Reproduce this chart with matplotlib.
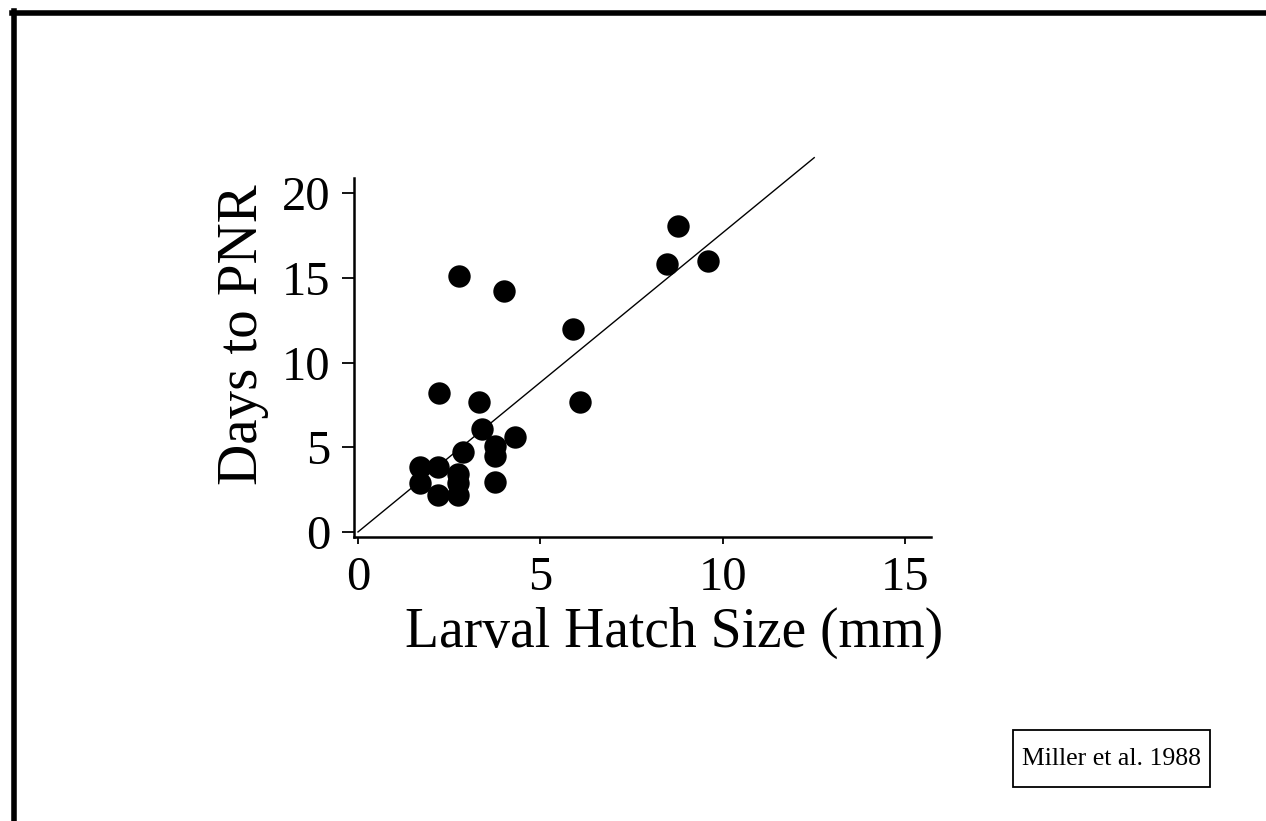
import numpy as np
import matplotlib
matplotlib.use('Agg')
import matplotlib.pyplot as plt
from matplotlib.lines import Line2D
from matplotlib.patches import Rectangle

# hatch size (mm) vs days to point-of-no-return
hatch_size = [2.77, 4.0, 5.89, 2.22, 3.32, 6.08, 3.4, 4.3, 3.75, 3.75, 2.88,
              3.75, 1.7, 1.7, 2.2, 2.2, 2.74, 2.74, 2.74, 8.77, 8.47, 9.59]
days_pnr = [15.1, 14.2, 12.0, 8.2, 7.7, 7.7, 6.1, 5.6, 5.1, 4.5, 4.7,
            2.95, 3.85, 2.9, 3.85, 2.2, 3.4, 2.9, 2.2, 18.05, 15.8, 16.0]
fit_x = [0, 12.5]
fit_y = [0, 22.1]

plt.rcParams['font.family'] = ['Liberation Serif', 'DejaVu Serif']

W, H = 1266, 821
fig = plt.figure(figsize=(12.66, 8.21), dpi=100)
ax = fig.add_axes([0.2796, 0.3459, 0.4558, 0.4373])

ax.scatter(hatch_size, days_pnr, s=260, color='black', zorder=3, linewidths=0)
ax.plot(fit_x, fit_y, color='black', lw=1.0, clip_on=False)

ax.set_xlim(-0.11, 15.7)
ax.set_ylim(-0.3, 20.9)
ax.set_xticks([0, 5, 10, 15])
ax.set_yticks([0, 5, 10, 15, 20])
for s in ['top', 'right']:
    ax.spines[s].set_visible(False)
ax.spines['left'].set_linewidth(1.8)
ax.spines['bottom'].set_linewidth(1.8)
ax.tick_params(axis='y', length=9, width=1.3, labelsize=35, pad=8)
ax.tick_params(axis='x', length=5, width=1.3, labelsize=35, pad=9)

ax.set_xlabel('Larval Hatch Size (mm)', fontsize=40)
ax.set_ylabel('Days to PNR', fontsize=41)
ax.xaxis.set_label_coords(0.555, -0.195)
ax.yaxis.set_label_coords(-0.148, 0.563)

# citation box
fig.text(1111.5 / W, 1 - 759 / H, 'Miller et al. 1988', fontsize=18.5,
         ha='center', va='center')
fig.add_artist(Rectangle((1013 / W, 1 - 787 / H), 197 / W, 57 / H,
                         transform=fig.transFigure, fill=False,
                         edgecolor='black', lw=1.3))

# outer frame (cropped at right and bottom)
fig.add_artist(Line2D([12 / W, 1.0], [1 - 13 / H, 1 - 13 / H], color='black', lw=4, transform=fig.transFigure))
fig.add_artist(Line2D([14 / W, 14 / W], [0.0, 1 - 11 / H], color='black', lw=4, transform=fig.transFigure))

fig.savefig('out.png', dpi=100)
